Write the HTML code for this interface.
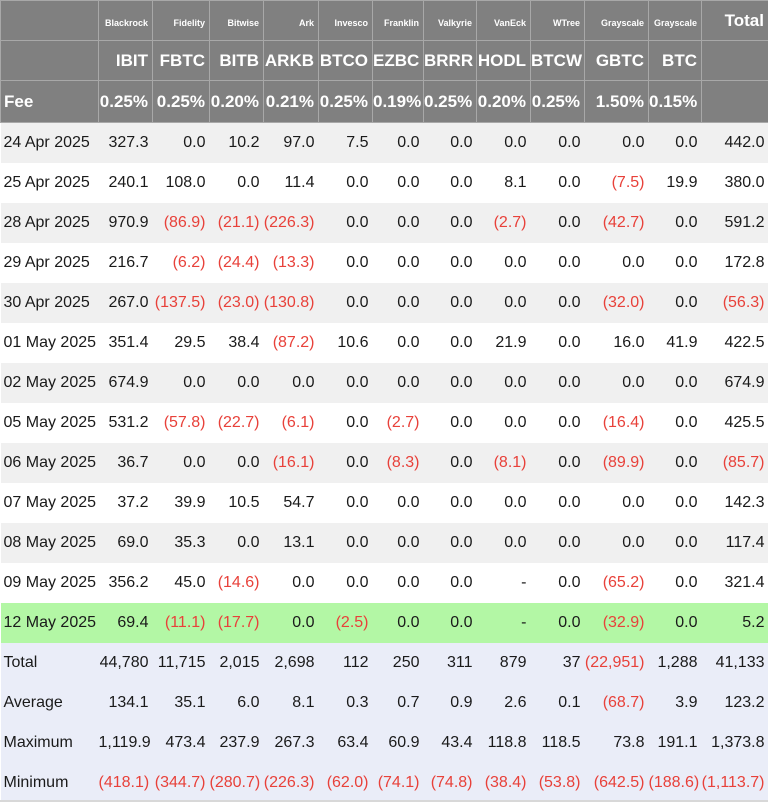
<!DOCTYPE html>
<html><head><meta charset="utf-8">
<style>
body{margin:0;background:#fff;font-family:"Liberation Sans",sans-serif;}
#wrap{position:relative;width:768px;height:802px;overflow:hidden;}
table{border-collapse:collapse;table-layout:fixed;width:768px;position:absolute;left:0;top:0;}
td{height:40px;padding:0 4px 0 0;text-align:right;font-size:16px;color:#1a1a1a;white-space:nowrap;box-sizing:border-box;}
td.l{text-align:left;padding-left:3px;}
tr.h td{background:#808080;color:#fff;font-weight:bold;border:1px solid #a8a8a8;}
tr.h1 td{font-size:9px;padding-top:4px;}
tr.h2 td,tr.h3 td{font-size:17px;}
tr.h3 td{height:42px;}
tr.g td{background:#f0f0f0;}
tr.w td{background:#fff;}
tr.gr td{background:#b3f7a5;}
tr.s td{background:#eaedf8;}
.neg{color:#e8413a;}
</style></head><body>
<div id="wrap">
<table id="t">
<colgroup>
<col style="width:98px"><col style="width:54px"><col style="width:57px"><col style="width:54px"><col style="width:55px"><col style="width:54px"><col style="width:51px"><col style="width:53px"><col style="width:54px"><col style="width:54px"><col style="width:64px"><col style="width:53px"><col style="width:67px">
</colgroup>
<tbody id="tb"></tbody>
</table>
<div style="position:absolute;left:0;top:800px;width:768px;height:2px;background:#d8d8d8"></div>
</div>
<script>
const issuers=["Blackrock","Fidelity","Bitwise","Ark","Invesco","Franklin","Valkyrie","VanEck","WTree","Grayscale","Grayscale"];
const tickers=["IBIT","FBTC","BITB","ARKB","BTCO","EZBC","BRRR","HODL","BTCW","GBTC","BTC"];
const fees=["0.25%","0.25%","0.20%","0.21%","0.25%","0.19%","0.25%","0.20%","0.25%","1.50%","0.15%"];
const dates=["24 Apr 2025","25 Apr 2025","28 Apr 2025","29 Apr 2025","30 Apr 2025","01 May 2025","02 May 2025","05 May 2025","06 May 2025","07 May 2025","08 May 2025","09 May 2025","12 May 2025"];
const flows=[
["327.3","0.0","10.2","97.0","7.5","0.0","0.0","0.0","0.0","0.0","0.0","442.0"],
["240.1","108.0","0.0","11.4","0.0","0.0","0.0","8.1","0.0","(7.5)","19.9","380.0"],
["970.9","(86.9)","(21.1)","(226.3)","0.0","0.0","0.0","(2.7)","0.0","(42.7)","0.0","591.2"],
["216.7","(6.2)","(24.4)","(13.3)","0.0","0.0","0.0","0.0","0.0","0.0","0.0","172.8"],
["267.0","(137.5)","(23.0)","(130.8)","0.0","0.0","0.0","0.0","0.0","(32.0)","0.0","(56.3)"],
["351.4","29.5","38.4","(87.2)","10.6","0.0","0.0","21.9","0.0","16.0","41.9","422.5"],
["674.9","0.0","0.0","0.0","0.0","0.0","0.0","0.0","0.0","0.0","0.0","674.9"],
["531.2","(57.8)","(22.7)","(6.1)","0.0","(2.7)","0.0","0.0","0.0","(16.4)","0.0","425.5"],
["36.7","0.0","0.0","(16.1)","0.0","(8.3)","0.0","(8.1)","0.0","(89.9)","0.0","(85.7)"],
["37.2","39.9","10.5","54.7","0.0","0.0","0.0","0.0","0.0","0.0","0.0","142.3"],
["69.0","35.3","0.0","13.1","0.0","0.0","0.0","0.0","0.0","0.0","0.0","117.4"],
["356.2","45.0","(14.6)","0.0","0.0","0.0","0.0","-","0.0","(65.2)","0.0","321.4"],
["69.4","(11.1)","(17.7)","0.0","(2.5)","0.0","0.0","-","0.0","(32.9)","0.0","5.2"]];
const sumLabels=["Total","Average","Maximum","Minimum"];
const sums=[
["44,780","11,715","2,015","2,698","112","250","311","879","37","(22,951)","1,288","41,133"],
["134.1","35.1","6.0","8.1","0.3","0.7","0.9","2.6","0.1","(68.7)","3.9","123.2"],
["1,119.9","473.4","237.9","267.3","63.4","60.9","43.4","118.8","118.5","73.8","191.1","1,373.8"],
["(418.1)","(344.7)","(280.7)","(226.3)","(62.0)","(74.1)","(74.8)","(38.4)","(53.8)","(642.5)","(188.6)","(1,113.7)"]];
const tb=document.getElementById('tb');
function row(cls,name){const tr=document.createElement('tr');tr.className=cls;


tb.appendChild(tr);return tr;}
function cell(tr,txt,name,left){const td=document.createElement('td');td.textContent=txt;
if(left)td.className='l';
if(txt.startsWith('('))td.classList.add('neg');


tr.appendChild(td);return td;}
let r=row('h h1','issuer-header-row');cell(r,'','header-corner');
issuers.forEach(s=>cell(r,s,'issuer-'+s.toLowerCase()));
let tt=cell(r,'Total','total-header');tt.style.fontSize='17px';tt.style.paddingTop='0';
r=row('h h2','ticker-header-row');cell(r,'','header-blank');
tickers.forEach(s=>cell(r,s,'ticker-'+s.toLowerCase()));cell(r,'','total-blank');
r=row('h h3','fee-row');cell(r,'Fee','fee-label',true);
fees.forEach((s,i)=>cell(r,s,'fee-'+tickers[i].toLowerCase()));cell(r,'','fee-total-blank');
dates.forEach((d,i)=>{const cls=i===dates.length-1?'gr':(i%2===0?'g':'w');
const tr=row(cls,'flow-row');cell(tr,d,'date-cell',true);
flows[i].forEach(v=>cell(tr,v,'flow-value'));});
sumLabels.forEach((l,i)=>{const tr=row('s','summary-row-'+l.toLowerCase());cell(tr,l,'summary-label',true);
sums[i].forEach(v=>cell(tr,v,'summary-value'));});
</script>
</body></html>
